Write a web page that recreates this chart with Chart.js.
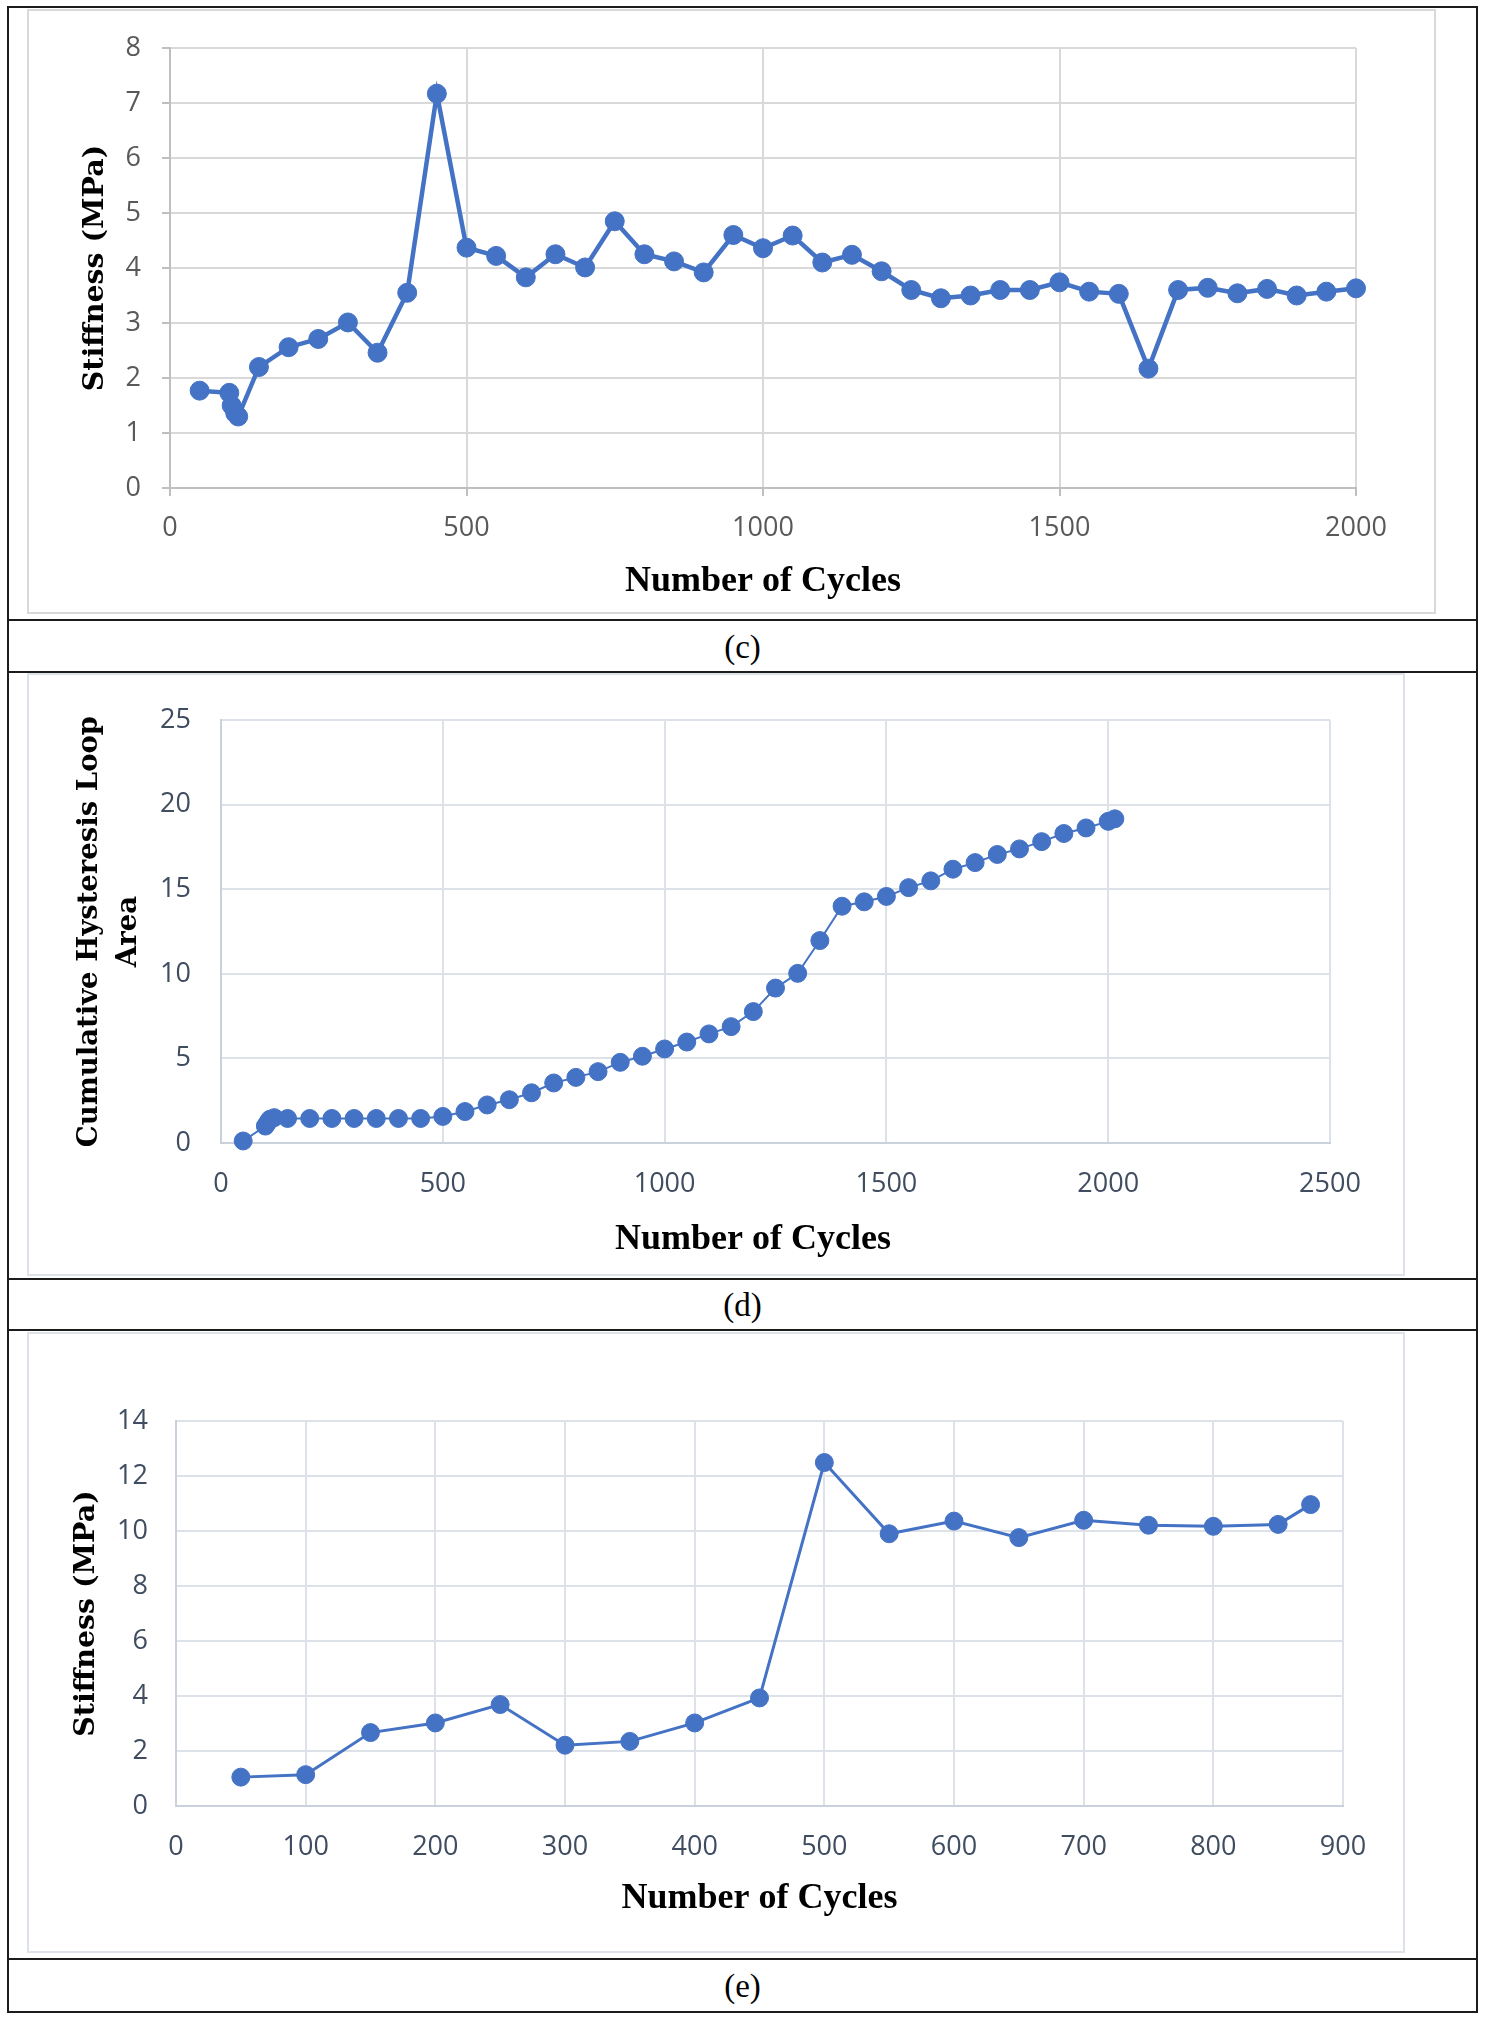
<!DOCTYPE html>
<html>
<head>
<meta charset="utf-8">
<script src="https://cdn.jsdelivr.net/npm/chart.js@4.4.1/dist/chart.umd.min.js"></script>
<style>
  html, body { margin: 0; padding: 0; background: #fff; }
  body { width: 1485px; height: 2019px; position: relative; overflow: hidden; }
  .rule { position: absolute; background: #1c1c1c; }
  .box { position: absolute; box-sizing: border-box; border: 2px solid #d9d9d9; background: #fff; }
  canvas { position: absolute; }
  .caption { position: absolute; left: 9px; width: 1467px; text-align: center;
             font-family: "Liberation Serif", "Times New Roman", serif; font-size: 33px; color: #000; }
</style>
</head>
<body>

<!-- table frame -->
<div class="rule" style="left:7px;top:6px;width:1471px;height:2px"></div>
<div class="rule" style="left:7px;top:6px;width:2px;height:2007px"></div>
<div class="rule" style="left:1476px;top:6px;width:2px;height:2007px"></div>
<div class="rule" style="left:7px;top:619px;width:1471px;height:2px"></div>
<div class="rule" style="left:7px;top:671px;width:1471px;height:2px"></div>
<div class="rule" style="left:7px;top:1278px;width:1471px;height:2px"></div>
<div class="rule" style="left:7px;top:1329px;width:1471px;height:2px"></div>
<div class="rule" style="left:7px;top:1958px;width:1471px;height:2px"></div>
<div class="rule" style="left:7px;top:2011px;width:1471px;height:2px"></div>

<div class="caption" style="top:622px;height:50px;line-height:50px">(c)</div>
<div class="caption" style="top:1281px;height:49px;line-height:49px">(d)</div>
<div class="caption" style="top:1961px;height:51px;line-height:51px">(e)</div>

<div class="box" style="left:27px;top:9px;width:1409px;height:605px"></div>
<canvas id="chartC" width="1407" height="603" style="left:28px;top:10px;width:1407px;height:603px"></canvas>

<div class="box" style="left:27px;top:673px;width:1378px;height:603px;border-color:#dde2e9"></div>
<canvas id="chartD" width="1376" height="601" style="left:28px;top:674px;width:1376px;height:601px"></canvas>

<div class="box" style="left:27px;top:1332px;width:1378px;height:621px;border-color:#dde2e9"></div>
<canvas id="chartE" width="1376" height="619" style="left:28px;top:1333px;width:1376px;height:619px"></canvas>

<script>
// (c) stiffness vs cycles
const cCycles = [50, 100, 104, 110, 115, 150, 200, 250, 300, 350, 400, 450, 500, 550, 600, 650, 700,
  750, 800, 850, 900, 950, 1000, 1050, 1100, 1150, 1200, 1250, 1300, 1350, 1400, 1450, 1500,
  1550, 1600, 1650, 1700, 1750, 1800, 1850, 1900, 1950, 2000];
const cStiffness = [1.77, 1.73, 1.50, 1.36, 1.30, 2.20, 2.56, 2.71, 3.01, 2.46, 3.55, 7.17, 4.37, 4.22, 3.83, 4.25, 4.01,
  4.85, 4.25, 4.12, 3.92, 4.60, 4.36, 4.59, 4.10, 4.24, 3.94, 3.60, 3.45, 3.50, 3.60, 3.60, 3.74,
  3.57, 3.53, 2.17, 3.60, 3.64, 3.54, 3.62, 3.50, 3.57, 3.63];

// (d) cumulative hysteresis loop area vs cycles
const dCycles = [50, 100, 105, 110, 120, 150, 200, 250, 300, 350, 400, 450, 500, 550, 600, 650, 700,
  750, 800, 850, 900, 950, 1000, 1050, 1100, 1150, 1200, 1250, 1300, 1350, 1400, 1450, 1500,
  1550, 1600, 1650, 1700, 1750, 1800, 1850, 1900, 1950, 2000, 2015];
const dArea = [0.12, 1.0, 1.2, 1.4, 1.5, 1.45, 1.45, 1.45, 1.45, 1.45, 1.45, 1.45, 1.57, 1.86, 2.25, 2.56, 2.97,
  3.55, 3.88, 4.22, 4.77, 5.13, 5.56, 5.97, 6.45, 6.88, 7.77, 9.16, 10.03, 11.97, 14.0, 14.26, 14.58,
  15.1, 15.5, 16.19, 16.58, 17.06, 17.39, 17.82, 18.3, 18.63, 19.02, 19.17];

// (e) stiffness vs cycles
const eCycles = [50, 100, 150, 200, 250, 300, 350, 400, 450, 500, 550, 600, 650, 700, 750, 800, 850, 875];
const eStiffness = [1.05, 1.14, 2.67, 3.02, 3.69, 2.21, 2.35, 3.02, 3.93, 12.49, 9.9, 10.36, 9.76, 10.39, 10.21, 10.17, 10.24, 10.96];

// axis ranges: [min, max, step]
const cXRange = [0, 2000, 500];
const cYRange = [0, 8, 1];
const dXRange = [0, 2500, 500];
const dYRange = [0, 25, 5];
const eXRange = [0, 900, 100];
const eYRange = [0, 14, 2];

const xTitle = 'Number of Cycles';
const cYTitle = 'Stiffness (MPa)';
const dYTitle = ['Cumulative Hysteresis Loop', 'Area'];
const eYTitle = 'Stiffness (MPa)';

const BLUE = '#4472c4';

function buildChart(id, cycles, values, xr, yr, yTitle, s) {
    const ctx = document.getElementById(id).getContext('2d');
    const tickFont = { family: '"Open Sans", sans-serif', size: 27 };
    return new Chart(ctx, {
        type: 'line',
        data: {
            datasets: [{
                data: cycles.map((c, i) => ({ x: c, y: values[i] })),
                borderColor: BLUE,
                backgroundColor: BLUE,
                borderWidth: s.lineWidth,
                pointRadius: s.pointRadius,
                pointBorderWidth: 1,
                pointBorderColor: BLUE,
                pointBackgroundColor: BLUE,
                tension: 0,
                clip: false
            }]
        },
        options: {
            responsive: false,
            animation: false,
            devicePixelRatio: 1,
            layout: { padding: s.padding },
            plugins: { legend: { display: false }, tooltip: { enabled: false } },
            scales: {
                x: {
                    type: 'linear',
                    min: xr[0], max: xr[1],
                    ticks: { stepSize: xr[2], padding: s.xTickPad, color: s.tickColor, font: tickFont,
                             maxRotation: 0, callback: v => String(v) },
                    grid: { color: s.gridColor, lineWidth: 2, drawTicks: s.drawTicks, tickLength: 8, tickColor: s.axisColor },
                    border: { color: s.axisColor, width: 2 },
                    // trailing spaces nudge the centred title left where the original sits off-centre
                    title: { display: true, text: xTitle + ' '.repeat(s.xTitleNudge || 0), color: '#000',
                             font: { family: '"Liberation Serif", "Times New Roman", serif', size: 36, weight: 'bold' },
                             padding: { top: 0, bottom: s.xTitlePad } },
                    afterFit: scale => { scale.height = s.xHeight; }
                },
                y: {
                    type: 'linear',
                    min: yr[0], max: yr[1],
                    ticks: { stepSize: yr[2], padding: s.yTickPad, color: s.tickColor, font: tickFont,
                             callback: v => String(v) },
                    grid: { color: s.gridColor, lineWidth: 2, drawTicks: s.drawTicks, tickLength: 8, tickColor: s.axisColor },
                    border: { color: s.axisColor, width: 2 },
                    title: { display: true, text: yTitle, color: '#000',
                             font: { family: '"DejaVu Serif", serif', size: s.yTitleSize, weight: 'bold', lineHeight: s.yTitleLH },
                             padding: { top: s.yTitlePad, bottom: 0 } },
                    afterFit: scale => { scale.width = s.yWidth; }
                }
            }
        }
    });
}

buildChart('chartC', cCycles, cStiffness, cXRange, cYRange, cYTitle, {
    lineWidth: 4.5, pointRadius: 9.5,
    padding: { top: 38, right: 79, bottom: 0, left: 0 },
    yWidth: 142, xHeight: 125,
    xTickPad: 16, yTickPad: 21, drawTicks: true,
    tickColor: '#595959', gridColor: '#d9d9d9', axisColor: '#bfbfbf',
    xTitlePad: 10, yTitlePad: 50, yTitleSize: 28.5, yTitleLH: 1.2
});

buildChart('chartD', dCycles, dArea, dXRange, dYRange, dYTitle, {
    lineWidth: 2, pointRadius: 9,
    padding: { top: 38, right: 74, bottom: 0, left: 0 },
    yWidth: 193, xHeight: 132,
    xTickPad: 25, yTickPad: 30, drawTicks: false,
    tickColor: '#404d60', gridColor: '#dde2e9', axisColor: '#c9d1dc',
    xTitlePad: 14, xTitleNudge: 5, yTitlePad: 43, yTitleSize: 27.5, yTitleLH: 1.4
});

buildChart('chartE', eCycles, eStiffness, eXRange, eYRange, eYTitle, {
    lineWidth: 3, pointRadius: 9,
    padding: { top: 88, right: 61, bottom: 0, left: 0 },
    yWidth: 148, xHeight: 146,
    xTickPad: 25, yTickPad: 28, drawTicks: false,
    tickColor: '#404d60', gridColor: '#dde2e9', axisColor: '#c9d1dc',
    xTitlePad: 32, yTitlePad: 41, yTitleSize: 28.5, yTitleLH: 1.2
});
</script>
</body>
</html>
